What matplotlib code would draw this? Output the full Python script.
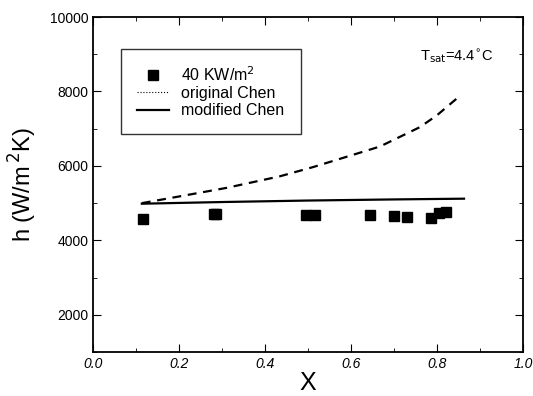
import matplotlib
matplotlib.use("Agg")
import matplotlib.pyplot as plt
from matplotlib.lines import Line2D
from matplotlib.ticker import MultipleLocator

plt.rcParams['font.family'] = ['Liberation Sans', 'DejaVu Sans']

# measured data, 40 kW/m2
x_meas = [0.116, 0.281, 0.286, 0.496, 0.516, 0.645, 0.700, 0.730, 0.785, 0.805, 0.820]
h_meas = [4575, 4717, 4717, 4690, 4690, 4690, 4663, 4628, 4600, 4735, 4762]

# original Chen correlation
x_orig = [0.113, 0.20, 0.31, 0.434, 0.512, 0.636, 0.667, 0.76, 0.80, 0.845]
h_orig = [5000, 5180, 5410, 5720, 5970, 6410, 6520, 7040, 7360, 7800]

# modified Chen correlation
x_mod = [0.113, 0.30, 0.50, 0.70, 0.863]
h_mod = [4985, 5030, 5070, 5100, 5120]

fig = plt.figure(figsize=(5.33, 3.96), dpi=100)
ax = fig.add_axes([0.175, 0.111, 0.806, 0.846])

ax.plot(x_orig, h_orig, color='black', ls=(0, (4, 3)), lw=1.6)
ax.plot(x_mod, h_mod, color='black', ls='-', lw=1.6)
ax.plot(x_meas, h_meas, 's', color='black', ms=7, mec='black')

ax.set_xlim(0.0, 1.0)
ax.set_ylim(1000, 10000)
ax.xaxis.set_major_locator(MultipleLocator(0.2))
ax.xaxis.set_minor_locator(MultipleLocator(0.1))
ax.yaxis.set_major_locator(MultipleLocator(2000))
ax.yaxis.set_minor_locator(MultipleLocator(1000))
ax.tick_params(which='both', direction='in', top=True, right=True, labelsize=10)
ax.tick_params(which='major', length=6)
ax.tick_params(which='minor', length=3)
ax.set_xticklabels([f"{v:.1f}" for v in ax.get_xticks()], style='italic')
for s in ax.spines.values():
    s.set_linewidth(1.3)

ax.set_xlabel('X', fontsize=18, labelpad=0)
ax.set_ylabel(r'h (W/m$^{\,2}$K)', fontsize=17, labelpad=8)

ax.text(0.76, 0.87, r'T$_{\rm sat}$=4.4$^{\circ}$C', transform=ax.transAxes, fontsize=10.5)

handles = [
    Line2D([], [], marker='s', ls='none', color='black', ms=7),
    Line2D([], [], ls=':', color='black', lw=0.8),
    Line2D([], [], ls='-', color='black', lw=1.6),
]
labels = [r'40 KW/m$^2$', 'original Chen', 'modified Chen']
leg = ax.legend(handles, labels, loc='upper left', bbox_to_anchor=(0.064, 0.905),
                borderaxespad=0, fontsize=11.5, frameon=True, fancybox=False,
                edgecolor='black', handlelength=2.0, handletextpad=0.8,
                borderpad=1.0, labelspacing=0.15)
leg.get_frame().set_linewidth(1.0)

fig.savefig('out.png', dpi=100)
